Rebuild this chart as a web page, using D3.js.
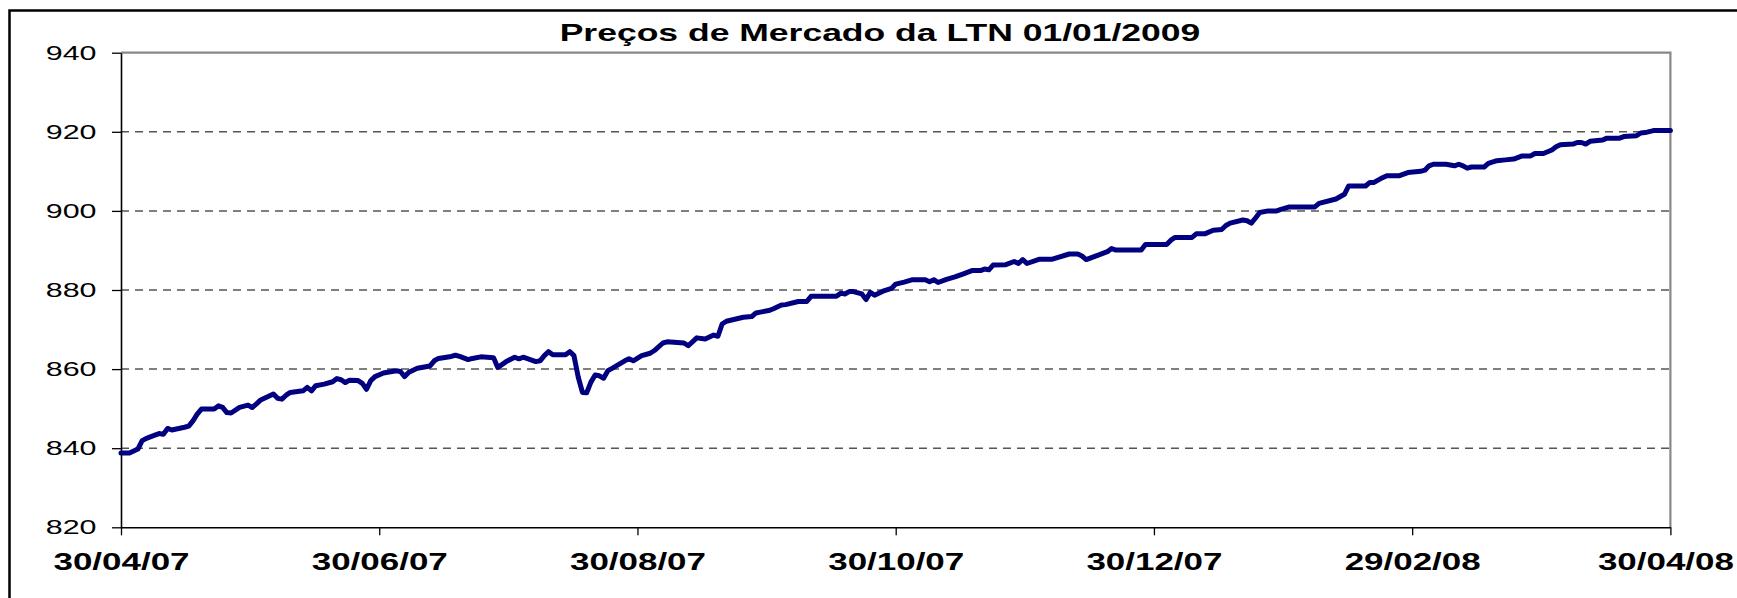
<!DOCTYPE html>
<html>
<head>
<meta charset="utf-8">
<script src="https://cdn.jsdelivr.net/npm/d3@7"></script>
<style>
  body { margin: 0; background: #fff; }
  svg { display: block; font-family: "Liberation Sans", Arial, sans-serif; }
</style>
</head>
<body>
<svg id="chart"></svg>
<script>
const chartTitle = "Preços de Mercado da LTN 01/01/2009";
const xTickLabels = ["30/04/07", "30/06/07", "30/08/07", "30/10/07", "30/12/07", "29/02/08", "30/04/08"];
const yTickValues = [820, 840, 860, 880, 900, 920, 940];

// dd/mm/yy
const dates = [
    "30/04/07", "02/05/07", "04/05/07", "05/05/07", "06/05/07", "08/05/07", "09/05/07", "10/05/07", "11/05/07", "12/05/07",
    "15/05/07", "16/05/07", "17/05/07", "18/05/07", "19/05/07", "22/05/07", "23/05/07", "24/05/07", "25/05/07", "26/05/07",
    "28/05/07", "30/05/07", "31/05/07", "01/06/07", "02/06/07", "05/06/07", "06/06/07", "07/06/07", "08/06/07", "09/06/07",
    "12/06/07", "13/06/07", "14/06/07", "15/06/07", "17/06/07", "19/06/07", "20/06/07", "21/06/07", "22/06/07", "23/06/07",
    "25/06/07", "26/06/07", "27/06/07", "28/06/07", "29/06/07", "01/07/07", "04/07/07", "05/07/07", "06/07/07", "07/07/07",
    "09/07/07", "12/07/07", "13/07/07", "14/07/07", "17/07/07", "18/07/07", "19/07/07", "21/07/07", "22/07/07", "24/07/07",
    "27/07/07", "28/07/07", "30/07/07", "01/08/07", "02/08/07", "03/08/07", "06/08/07", "07/08/07", "08/08/07", "09/08/07",
    "10/08/07", "13/08/07", "14/08/07", "15/08/07", "16/08/07", "17/08/07", "18/08/07", "19/08/07", "20/08/07", "21/08/07",
    "22/08/07", "23/08/07", "24/08/07", "27/08/07", "28/08/07", "29/08/07", "31/08/07", "02/09/07", "03/09/07", "05/09/07",
    "06/09/07", "10/09/07", "11/09/07", "13/09/07", "15/09/07", "17/09/07", "18/09/07", "19/09/07", "20/09/07", "24/09/07",
    "26/09/07", "27/09/07", "28/09/07", "30/09/07", "01/10/07", "03/10/07", "04/10/07", "07/10/07", "09/10/07", "10/10/07",
    "16/10/07", "17/10/07", "18/10/07", "19/10/07", "20/10/07", "22/10/07", "23/10/07", "24/10/07", "25/10/07", "27/10/07",
    "29/10/07", "30/10/07", "01/11/07", "03/11/07", "06/11/07", "07/11/07", "08/11/07", "09/11/07", "11/11/07", "13/11/07",
    "15/11/07", "17/11/07", "19/11/07", "20/11/07", "21/11/07", "22/11/07", "25/11/07", "27/11/07", "28/11/07", "29/11/07",
    "30/11/07", "03/12/07", "06/12/07", "10/12/07", "12/12/07", "13/12/07", "14/12/07", "17/12/07", "19/12/07", "20/12/07",
    "21/12/07", "27/12/07", "28/12/07", "02/01/08", "03/01/08", "04/01/08", "08/01/08", "09/01/08", "11/01/08", "13/01/08",
    "15/01/08", "16/01/08", "17/01/08", "20/01/08", "21/01/08", "22/01/08", "23/01/08", "24/01/08", "26/01/08", "28/01/08",
    "29/01/08", "31/01/08", "06/02/08", "07/02/08", "11/02/08", "13/02/08", "14/02/08", "18/02/08", "19/02/08", "20/02/08",
    "22/02/08", "23/02/08", "26/02/08", "28/02/08", "02/03/08", "03/03/08", "04/03/08", "05/03/08", "08/03/08", "10/03/08",
    "11/03/08", "12/03/08", "13/03/08", "14/03/08", "17/03/08", "18/03/08", "20/03/08", "22/03/08", "24/03/08", "26/03/08",
    "28/03/08", "29/03/08", "31/03/08", "02/04/08", "03/04/08", "04/04/08", "07/04/08", "08/04/08", "09/04/08", "10/04/08",
    "11/04/08", "14/04/08", "15/04/08", "18/04/08", "19/04/08", "22/04/08", "23/04/08", "24/04/08", "26/04/08", "30/04/08"
];

const prices = [
    838.8, 838.8, 839.8, 841.9, 842.5, 843.3, 843.7, 843.5, 845.0, 844.6,
    845.3, 845.6, 846.9, 848.6, 849.9, 849.9, 850.7, 850.3, 849.0, 848.9,
    850.3, 850.9, 850.3, 851.2, 852.2, 853.7, 852.6, 852.4, 853.4, 854.1,
    854.5, 855.4, 854.5, 855.8, 856.2, 856.8, 857.6, 857.3, 856.6, 857.2,
    857.1, 856.4, 854.9, 857.1, 858.1, 859.0, 859.6, 859.4, 858.1, 859.2,
    860.2, 860.8, 862.1, 862.7, 863.2, 863.5, 863.2, 862.4, 862.7, 863.1,
    862.9, 860.4, 861.9, 863.0, 862.6, 863.0, 861.9, 862.1, 863.4, 864.4,
    863.6, 863.6, 864.4, 863.4, 858.0, 854.1, 854.0, 856.7, 858.5, 858.3,
    857.7, 859.6, 860.2, 862.1, 862.6, 862.1, 863.4, 864.0, 864.7, 866.6,
    866.9, 866.6, 865.9, 867.9, 867.6, 868.6, 868.3, 871.4, 872.1, 873.1,
    873.3, 874.2, 874.4, 874.8, 875.2, 876.2, 876.3, 877.1, 877.1, 878.4,
    878.4, 879.2, 879.0, 879.6, 879.6, 879.0, 877.6, 879.4, 878.7, 879.7,
    880.4, 881.5, 882.0, 882.6, 882.6, 882.1, 882.6, 881.9, 882.7, 883.3,
    884.1, 884.9, 884.9, 885.3, 885.1, 886.3, 886.4, 887.2, 886.7, 887.7,
    886.7, 887.8, 887.8, 889.1, 889.1, 888.6, 887.7, 888.9, 889.7, 890.5,
    890.1, 890.1, 891.5, 891.5, 892.6, 893.3, 893.3, 894.2, 894.2, 895.1,
    895.3, 896.3, 896.9, 897.7, 897.5, 896.9, 898.2, 899.6, 900.0, 900.0,
    900.4, 901.0, 901.0, 901.9, 903.0, 904.2, 906.3, 906.3, 907.2, 907.2,
    908.4, 908.9, 908.9, 909.7, 910.0, 910.3, 911.4, 911.8, 911.8, 911.4,
    911.8, 911.4, 910.8, 911.1, 911.1, 912.0, 912.7, 912.9, 913.1, 913.9,
    913.9, 914.5, 914.5, 915.4, 916.2, 916.7, 916.9, 917.3, 917.3, 916.9,
    917.6, 917.9, 918.4, 918.4, 918.8, 919.0, 919.7, 919.8, 920.3, 920.3
];

const width = 1737, height = 598;
const margin = { top: 52.7, right: 66.6, bottom: 70.7, left: 121 };
const innerW = width - margin.left - margin.right,
      innerH = height - margin.top - margin.bottom;
const stretch = 1.52; // the original picture is wider than tall

const parseDate = d3.timeParse("%d/%m/%y");
const series = dates.map((d, i) => ({ date: parseDate(d), price: prices[i] }));
const tickDates = xTickLabels.map(parseDate);

const svg = d3.select("#chart")
    .attr("width", width)
    .attr("height", height);

// outer chart frame (runs off the page on the right and bottom)
svg.append("rect")
    .attr("x", 9.5)
    .attr("y", 10.5)
    .attr("width", 1800)
    .attr("height", 700)
    .attr("fill", "none")
    .attr("stroke", "#000")
    .attr("stroke-width", 2.5);

svg.append("text")
    .attr("transform", `translate(880,40.5) scale(1.48,1)`)
    .attr("text-anchor", "middle")
    .attr("font-size", "24px")
    .attr("font-weight", "bold")
    .text(chartTitle);

const g = svg.append("g")
    .attr("transform", `translate(${margin.left},${margin.top})`);

const x = d3.scaleTime()
    .domain([tickDates[0], tickDates[tickDates.length - 1]])
    .range([0, innerW]);
const y = d3.scaleLinear()
    .domain([820, 940])
    .range([innerH, 0]);

// dashed grid
g.append("g")
    .selectAll("line")
    .data(yTickValues.filter(v => v > 820 && v < 940))
    .join("line")
    .attr("x1", 0)
    .attr("x2", innerW)
    .attr("y1", d => y(d))
    .attr("y2", d => y(d))
    .attr("stroke", "#555")
    .attr("stroke-width", 1.5)
    .attr("stroke-dasharray", "8,6");

// grey plot border top and right
g.append("path")
    .attr("d", `M0,${y(940)}H${innerW}V${innerH}`)
    .attr("fill", "none")
    .attr("stroke", "#888")
    .attr("stroke-width", 2.2);

const yAxis = g.append("g")
    .call(d3.axisLeft(y).tickValues(yTickValues).tickSize(9).tickSizeOuter(0).tickFormat(d3.format("d")));
yAxis.select(".domain").attr("stroke", "#000").attr("stroke-width", 1.6);
yAxis.selectAll(".tick line").attr("stroke", "#000").attr("stroke-width", 1.3);
yAxis.selectAll(".tick text")
    .attr("x", 0)
    .attr("dy", "0.33em")
    .attr("transform", `translate(-24.5,0) scale(${stretch},1)`)
    .attr("font-size", "20px")
    .attr("font-family", "Liberation Sans, Arial, sans-serif")
    .attr("fill", "#000");

const xAxis = g.append("g")
    .attr("transform", `translate(0,${innerH})`)
    .call(d3.axisBottom(x).tickValues(tickDates).tickSize(8).tickSizeOuter(0)
        .tickFormat((d, i) => xTickLabels[i]));
xAxis.select(".domain").attr("stroke", "#000").attr("stroke-width", 1.6);
xAxis.selectAll(".tick line").attr("stroke", "#000").attr("stroke-width", 1.3);
xAxis.selectAll(".tick text")
    .attr("y", 0)
    .attr("dy", 0)
    .attr("transform", (d, i) => {
        // last label sits flush with the page edge
        let shift = i === xTickLabels.length - 1 ? -5 : 0;
        return `translate(${shift},43) scale(${stretch},1)`;
    })
    .attr("font-size", "23px")
    .attr("font-weight", "bold")
    .attr("font-family", "Liberation Sans, Arial, sans-serif")
    .attr("fill", "#000");

const line = d3.line()
    .x(d => x(d.date))
    .y(d => y(d.price));

g.append("path")
    .datum(series)
    .attr("d", line)
    .attr("fill", "none")
    .attr("stroke", "#000080")
    .attr("stroke-width", 5)
    .attr("stroke-linejoin", "round")
    .attr("stroke-linecap", "round");
</script>
</body>
</html>
